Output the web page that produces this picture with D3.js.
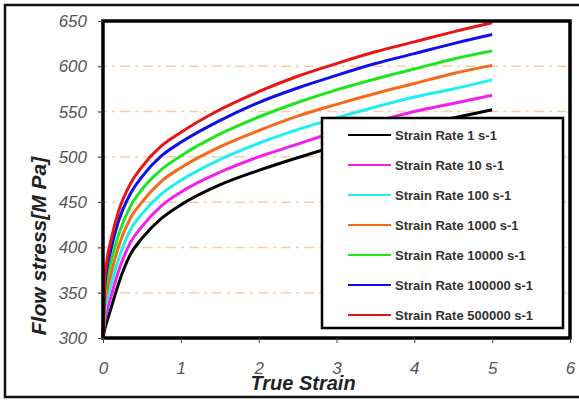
<!DOCTYPE html>
<html>
<head>
<meta charset="utf-8">
<script src="https://cdn.jsdelivr.net/npm/d3@7"></script>
<style>
    body { margin: 0; background: #fff; }
    svg { display: block; font-family: "Liberation Sans", Arial, sans-serif; }
</style>
</head>
<body>
<div id="chart"></div>
<script>
// strain values where the curves were read
var strains = [0, 0.02, 0.05, 0.1, 0.2, 0.35, 0.5, 0.75, 1, 1.5, 2, 2.5, 3, 3.5, 4, 4.5, 5];

var rate1      = [300, 309, 318, 332, 360, 392, 410, 432, 447, 469, 485, 499, 512, 523, 534, 543, 552];
var rate10     = [300, 318, 329, 345, 374, 405, 423, 446, 461, 483, 500, 514, 528, 539, 550, 559, 568];
var rate100    = [300, 326, 341, 358, 387, 419, 437, 459, 474, 497, 515, 530, 543, 555, 566, 575, 585];
var rate1000   = [300, 335, 352, 370, 401, 432, 450, 473, 488, 511, 529, 545, 558, 570, 581, 592, 601];
var rate10000  = [300, 344, 364, 383, 414, 445, 464, 486, 501, 525, 544, 560, 574, 586, 597, 608, 617];
var rate100000 = [300, 353, 376, 397, 429, 459, 478, 501, 516, 540, 560, 576, 590, 603, 614, 625, 635];
var rate500000 = [300, 360, 385, 407, 440, 470, 489, 512, 527, 552, 572, 589, 603, 616, 627, 638, 648];

var seriesNames = ["Strain Rate 1 s-1", "Strain Rate 10 s-1", "Strain Rate 100 s-1",
    "Strain Rate 1000 s-1", "Strain Rate 10000 s-1", "Strain Rate 100000 s-1", "Strain Rate 500000 s-1"];

var xTicks = [0, 1, 2, 3, 4, 5, 6];
var yTicks = [300, 350, 400, 450, 500, 550, 600, 650];
var gridValues = [350, 400, 450, 500, 550, 600];

var app = app || {};

app.FlowChart = (function () {
    'use strict';

    var colors = ["#000000", "#f020f0", "#20eef0", "#f26a1a", "#1ee61e", "#1010e6", "#e81414"];

    var init = function (el) {
        var config = {
            w: 579,
            h: 400,
            left: 103,
            right: 570,
            top: 21,
            bottom: 338
        };
        config.svg = d3.select(el).append("svg")
            .attr("width", config.w)
            .attr("height", config.h);

        config.x = d3.scaleLinear().domain([0, 6]).range([config.left, config.right]);
        config.y = d3.scaleLinear().domain([300, 650]).range([config.bottom, config.top]);

        frame(config);
        grid(config);
        curves(config);
        axes(config);
        legend(config);
    };

    var frame = function (config) {
        // outer picture border
        config.svg.append("rect")
            .attr("x", 5).attr("y", 5)
            .attr("width", 580).attr("height", 392)
            .attr("fill", "none")
            .attr("stroke", "#111")
            .attr("stroke-width", 2.5);
    };

    var grid = function (config) {
        config.svg.append("g").selectAll("line")
            .data(gridValues)
            .enter().append("line")
            .attr("x1", config.left - 6)
            .attr("x2", config.right)
            .attr("y1", function (d) { return config.y(d); })
            .attr("y2", function (d) { return config.y(d); })
            .attr("stroke", "#f3cfa6")
            .attr("stroke-width", 1.5)
            .attr("stroke-dasharray", "10,5,3,5");
    };

    var curves = function (config) {
        var all = [rate1, rate10, rate100, rate1000, rate10000, rate100000, rate500000];
        var line = d3.line()
            .x(function (d, i) { return config.x(strains[i]); })
            .y(function (d) { return config.y(d); })
            .curve(d3.curveMonotoneX);

        config.svg.append("g").selectAll("path")
            .data(all)
            .enter().append("path")
            .attr("d", line)
            .attr("fill", "none")
            .attr("stroke", function (d, i) { return colors[i]; })
            .attr("stroke-width", 3);
    };

    var axes = function (config) {
        var svg = config.svg;

        svg.append("rect")
            .attr("x", config.left).attr("y", config.top)
            .attr("width", config.right - config.left)
            .attr("height", config.bottom - config.top)
            .attr("fill", "none")
            .attr("stroke", "#000")
            .attr("stroke-width", 3.5);

        var xAxis = svg.append("g")
            .attr("transform", "translate(0," + config.bottom + ")")
            .call(d3.axisBottom(config.x).tickValues(xTicks).tickSize(5).tickPadding(19)
                .tickFormat(d3.format("d")));
        var yAxis = svg.append("g")
            .attr("transform", "translate(" + config.left + ",0)")
            .call(d3.axisLeft(config.y).tickValues(yTicks).tickSize(5).tickPadding(11)
                .tickFormat(d3.format("d")));

        [xAxis, yAxis].forEach(function (a) {
            a.select(".domain").remove();
            a.selectAll("line").attr("stroke", "#444").attr("stroke-width", 1);
            a.selectAll("text")
                .attr("fill", "#555")
                .style("font-size", "17px")
                .style("font-style", "italic");
        });

        svg.append("text")
            .attr("x", 303).attr("y", 390)
            .attr("text-anchor", "middle")
            .attr("fill", "#222")
            .style("font-size", "20px")
            .style("font-style", "italic")
            .style("font-weight", "bold")
            .text("True Strain");

        svg.append("text")
            .attr("transform", "translate(46,246) rotate(-90)")
            .attr("text-anchor", "middle")
            .attr("fill", "#222")
            .style("font-size", "21px")
            .style("font-style", "italic")
            .style("font-weight", "bold")
            .text("Flow stress[M Pa]");
    };

    var legend = function (config) {
        var g = config.svg.append("g");
        g.append("rect")
            .attr("x", 322).attr("y", 118)
            .attr("width", 241).attr("height", 210)
            .attr("fill", "#fff")
            .attr("stroke", "#000")
            .attr("stroke-width", 2.5);

        var rows = g.selectAll("g.row")
            .data(seriesNames)
            .enter().append("g")
            .attr("class", "row")
            .attr("transform", function (d, i) { return "translate(0," + (135 + i * 30) + ")"; });

        rows.append("line")
            .attr("x1", 348).attr("x2", 391)
            .attr("y1", 0).attr("y2", 0)
            .attr("stroke", function (d, i) { return colors[i]; })
            .attr("stroke-width", 2);

        rows.append("text")
            .attr("x", 395).attr("y", 4.5)
            .attr("fill", "#333")
            .style("font-size", "13px")
            .style("font-weight", "bold")
            .text(function (d) { return d; });
    };

    return {
        init: init
    };
}());

app.FlowChart.init("#chart");
</script>
</body>
</html>
